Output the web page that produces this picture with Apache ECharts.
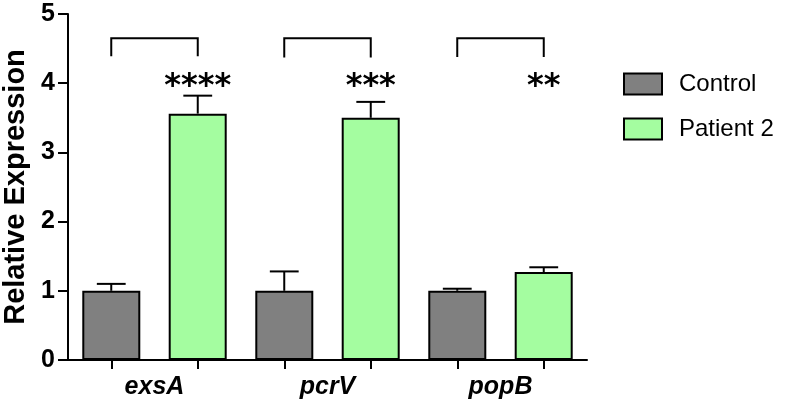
<!DOCTYPE html>
<html>
<head>
<meta charset="utf-8">
<script src="https://cdn.jsdelivr.net/npm/echarts@6/dist/echarts.min.js"></script>
<style>html,body{margin:0;padding:0;background:#fff}#c{width:789px;height:406px}</style>
</head>
<body>
<div id="c"></div>
<script>
const genes = ['exsA', 'pcrV', 'popB'];
const seriesNames = ['Control', 'Patient 2'];
const controlValues = [1.00, 1.00, 1.00];
const controlErrTop = [1.10, 1.28, 1.03];
const patientValues = [3.56, 3.50, 1.27];
const patientErrTop = [3.82, 3.73, 1.34];
const bracketTop = [4.65, 4.65, 4.65];
const bracketBottom = [4.39, 4.37, 4.38];
const stars = ['****', '***', '**'];
const starLevel = [3.95, 3.95, 3.95];
const yTicks = [0, 1, 2, 3, 4, 5];
const tickSlots = ['exsA-C', 'exsA-P', 'pcrV-C', 'pcrV-P', 'popB-C', 'popB-P'];

const FONT = "'Liberation Sans', Arial, sans-serif";

function errorSeries(values, tops, side) {
  return {
    type: 'custom',
    xAxisIndex: 0,
    silent: true,
    z: 5,
    data: values.map((v, i) => [i, v, tops[i]]),
    renderItem: function (params, api) {
      const band = api.size([1, 0])[0];
      const base = api.coord([api.value(0), api.value(1)]);
      const top = api.coord([api.value(0), api.value(2)]);
      const x = base[0] + side * band / 4;
      const half = band / 12;
      return {
        type: 'group',
        children: [
          { type: 'line', shape: { x1: x, y1: base[1], x2: x, y2: top[1] }, style: { stroke: '#000', lineWidth: 2 } },
          { type: 'line', shape: { x1: x - half, y1: top[1], x2: x + half, y2: top[1] }, style: { stroke: '#000', lineWidth: 2 } }
        ]
      };
    }
  };
}

const chart = echarts.init(document.getElementById('c'));
chart.setOption({
  animation: false,
  backgroundColor: '#fff',
  grid: { left: 68, top: 14, width: 519, bottom: 46, containLabel: false, outerBoundsMode: 'none' },
  legend: {
    orient: 'vertical',
    left: 618,
    top: 67,
    itemWidth: 38,
    itemHeight: 21,
    itemGap: 21,
    icon: 'rect',
    textStyle: { fontFamily: FONT, fontSize: 24, color: '#000', padding: [0, 0, 0, 12] },
    data: seriesNames
  },
  xAxis: [
    {
      type: 'category',
      data: genes,
      position: 'bottom',
      axisLine: { lineStyle: { color: '#000', width: 2 } },
      axisTick: { show: false },
      axisLabel: { fontFamily: FONT, fontSize: 25, fontWeight: 'bold', fontStyle: 'italic', color: '#000', margin: 15 }
    },
    {
      type: 'category',
      data: tickSlots,
      position: 'bottom',
      axisLine: { show: false },
      axisTick: { show: true, alignWithLabel: true, length: 9, lineStyle: { color: '#000', width: 2 } },
      axisLabel: { show: false }
    }
  ],
  yAxis: {
    type: 'value',
    min: yTicks[0],
    max: yTicks[yTicks.length - 1],
    interval: 1,
    name: 'Relative Expression',
    nameLocation: 'middle',
    nameGap: 38,
    nameTextStyle: { fontFamily: FONT, fontSize: 29, fontWeight: 'bold', color: '#000' },
    axisLine: { show: true, lineStyle: { color: '#000', width: 2 } },
    axisTick: { show: true, length: 10, lineStyle: { color: '#000', width: 2 } },
    axisLabel: { fontFamily: FONT, fontSize: 25, fontWeight: 'bold', color: '#000', margin: 13 },
    splitLine: { show: false }
  },
  series: [
    {
      name: seriesNames[0], type: 'bar', xAxisIndex: 0, data: controlValues,
      barWidth: 58, barGap: '49%',
      itemStyle: { color: '#808080', borderColor: '#000', borderWidth: 2 }
    },
    {
      name: seriesNames[1], type: 'bar', xAxisIndex: 0, data: patientValues,
      barWidth: 58, barGap: '49%',
      itemStyle: { color: '#a4fda0', borderColor: '#000', borderWidth: 2 }
    },
    errorSeries(controlValues, controlErrTop, -1),
    errorSeries(patientValues, patientErrTop, 1),
    {
      type: 'custom',
      xAxisIndex: 0,
      silent: true,
      data: genes.map((g, i) => [i, bracketTop[i], bracketBottom[i], starLevel[i]]),
      renderItem: function (params, api) {
        const band = api.size([1, 0])[0];
        const c = api.coord([api.value(0), api.value(1)]);
        const b = api.coord([api.value(0), api.value(2)]);
        const s = api.coord([api.value(0), api.value(3)]);
        const x1 = c[0] - band / 4, x2 = c[0] + band / 4;
        return {
          type: 'group',
          children: [
            { type: 'polyline', shape: { points: [[x1, b[1]], [x1, c[1]], [x2, c[1]], [x2, b[1]]] }, style: { stroke: '#000', lineWidth: 2, fill: null } },
            { type: 'text', style: { text: stars[params.dataIndex], x: x2, y: s[1], align: 'center', verticalAlign: 'middle', fontFamily: "'DejaVu Sans', sans-serif", fontWeight: 'bold', fontSize: 32, fill: '#000' } }
          ]
        };
      }
    }
  ]
});
</script>
</body>
</html>
